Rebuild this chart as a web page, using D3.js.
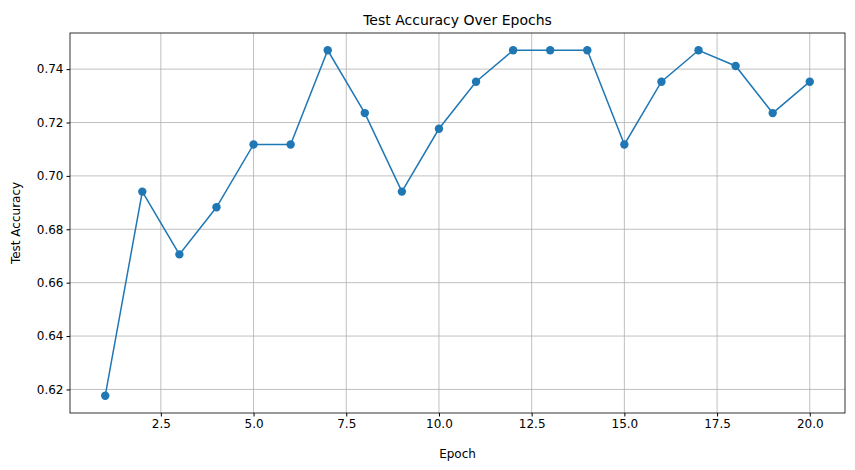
<!DOCTYPE html><html><head><script src="https://cdn.jsdelivr.net/npm/d3@7"></script>
<style>body{margin:0;background:#fff}text{font-family:"DejaVu Sans",sans-serif}</style></head><body><svg id="c" width="855" height="470"></svg>
<script>
const epochs=[1,2,3,4,5,6,7,8,9,10,11,12,13,14,15,16,17,18,19,20];
const correct=[105,118,114,117,121,121,127,123,118,122,125,127,127,127,121,125,127,126,123,125];
const accuracy=correct.map(c=>c/170);
const xTicks=[2.5,5,7.5,10,12.5,15,17.5,20];
const yTicks=[0.62,0.64,0.66,0.68,0.70,0.72,0.74];
const L=70,R=845,T=33,B=413;
const svg=d3.select("#c");
const ymin=d3.min(accuracy),ymax=d3.max(accuracy),pad=(ymax-ymin)*0.05;
const x=d3.scaleLinear().domain([1-19*0.05,20+19*0.05]).range([L,R]);
const y=d3.scaleLinear().domain([ymin-pad,ymax+pad]).range([B,T]);
const g=svg.append("g");
xTicks.forEach(t=>g.append("line").attr("x1",x(t)).attr("x2",x(t)).attr("y1",T).attr("y2",B).attr("stroke","#b0b0b0").attr("stroke-width",0.8));
yTicks.forEach(t=>g.append("line").attr("y1",y(t)).attr("y2",y(t)).attr("x1",L).attr("x2",R).attr("stroke","#b0b0b0").attr("stroke-width",0.8));
const xa=svg.append("g").attr("transform",`translate(0,${B})`).call(d3.axisBottom(x).tickValues(xTicks).tickFormat(d3.format(".1f")).tickSize(3.5).tickSizeOuter(0));
const ya=svg.append("g").attr("transform",`translate(${L},0)`).call(d3.axisLeft(y).tickValues(yTicks).tickFormat(d3.format(".2f")).tickSize(3.5).tickSizeOuter(0));
[xa,ya].forEach(a=>{a.selectAll("text").attr("font-size",12).attr("fill","#000");a.select(".domain").remove();});
svg.append("rect").attr("x",L).attr("y",T).attr("width",R-L).attr("height",B-T).attr("fill","none").attr("stroke","#000").attr("stroke-width",0.8);
svg.append("path").datum(epochs).attr("fill","none").attr("stroke","#1f77b4").attr("stroke-width",1.5)
 .attr("d",d3.line().x(d=>x(d)).y((d,i)=>y(accuracy[i])));
svg.selectAll("circle").data(epochs).enter().append("circle").attr("cx",d=>x(d)).attr("cy",(d,i)=>y(accuracy[i])).attr("r",4.2).attr("fill","#1f77b4");
svg.append("text").attr("x",(L+R)/2).attr("y",T-8).attr("text-anchor","middle").attr("font-size",14).text("Test Accuracy Over Epochs");
svg.append("text").attr("x",(L+R)/2).attr("y",458).attr("text-anchor","middle").attr("font-size",12).text("Epoch");
svg.append("text").attr("transform",`translate(20,${(T+B)/2}) rotate(-90)`).attr("text-anchor","middle").attr("font-size",12).text("Test Accuracy");
</script></body></html>
